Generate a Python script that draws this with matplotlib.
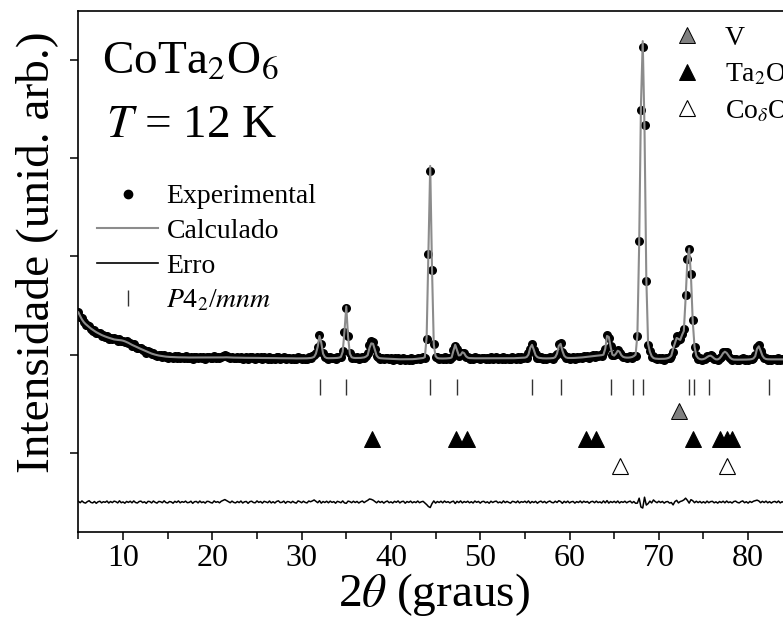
import numpy as np
import matplotlib
matplotlib.use("Agg")
import matplotlib.pyplot as plt
from matplotlib.lines import Line2D

plt.rcParams['font.family'] = ['Liberation Serif', 'DejaVu Serif']
plt.rcParams['mathtext.fontset'] = 'stix'

# 2theta grid (degrees), step 0.2
two_theta = np.round(np.arange(5.0, 85.01, 0.2), 1)

# calculated profile (arb. units), 10 points per line = 2 degrees
y_calc = np.array([
    2430, 2392, 2358, 2332, 2312, 2296, 2281, 2266, 2253, 2241,
    2229, 2219, 2209, 2200, 2192, 2185, 2178, 2172, 2166, 2160,
    2155, 2152, 2150, 2148, 2146, 2142, 2136, 2128, 2120, 2110,
    2100, 2092, 2083, 2075, 2066, 2058, 2050, 2042, 2034, 2026,
    2018, 2011, 2005, 2000, 1995, 1991, 1988, 1985, 1982, 1980,
    1978, 1977, 1976, 1975, 1974, 1974, 1973, 1973, 1972, 1972,
    1972, 1971, 1971, 1971, 1970, 1970, 1970, 1970, 1970, 1970,
    1970, 1970, 1970, 1970, 1970, 1970, 1970, 1970, 1970, 1970,
    1971, 1972, 1973, 1973, 1972, 1971, 1970, 1970, 1970, 1969,
    1969, 1969, 1968, 1968, 1968, 1968, 1968, 1967, 1967, 1967,
    1967, 1967, 1966, 1966, 1966, 1966, 1966, 1965, 1965, 1965,
    1965, 1965, 1964, 1964, 1964, 1964, 1963, 1963, 1963, 1963,
    1963, 1962, 1962, 1962, 1962, 1962, 1962, 1962, 1963, 1964,
    1966, 1970, 1978, 2010, 2080, 2190, 2120, 2010, 1976, 1966,
    1964, 1964, 1964, 1965, 1966, 1967, 1970, 1978, 2030, 2240,
    2490, 2180, 2010, 1974, 1968, 1966, 1966, 1966, 1967, 1969,
    1972, 1980, 1995, 2070, 2115, 2110, 2050, 1990, 1970, 1964,
    1962, 1961, 1960, 1960, 1959, 1958, 1957, 1956, 1955, 1954,
    1953, 1953, 1952, 1952, 1952, 1952, 1953, 1954, 1955, 1957,
    1959, 1961, 1963, 1966, 1975, 2180, 3070, 3920, 2880, 2100,
    1985, 1966, 1962, 1961, 1961, 1961, 1962, 1963, 1965, 1972,
    2040, 2100, 2045, 1992, 1996, 2025, 2015, 1984, 1970, 1965,
    1964, 1963, 1963, 1963, 1963, 1963, 1963, 1963, 1963, 1963,
    1963, 1963, 1963, 1963, 1963, 1963, 1963, 1963, 1963, 1963,
    1963, 1963, 1963, 1964, 1964, 1965, 1965, 1966, 1967, 1968,
    1970, 1976, 2000, 2070, 2100, 2050, 1995, 1975, 1968, 1965,
    1963, 1962, 1962, 1962, 1963, 1964, 1966, 1975, 2010, 2090,
    2110, 2040, 1990, 1972, 1967, 1966, 1966, 1966, 1967, 1968,
    1969, 1970, 1972, 1974, 1976, 1978, 1980, 1982, 1984, 1986,
    1988, 1990, 1992, 1995, 2000, 2060, 2190, 2180, 2080, 2000,
    1990, 2010, 2040, 2030, 1995, 1978, 1972, 1970, 1970, 1972,
    1976, 1985, 2000, 2200, 3120, 4540, 5190, 4290, 2780, 2110,
    2030, 1985, 1966, 1960, 1958, 1957, 1957, 1957, 1958, 1960,
    1964, 1972, 1990, 2060, 2115, 2170, 2160, 2150, 2200, 2240,
    2570, 2960, 3080, 2800, 2340, 2080, 1990, 1965, 1955, 1952,
    1955, 1962, 1975, 1986, 1990, 1978, 1962, 1952, 1952, 1962,
    1985, 2015, 2030, 2018, 1992, 1968, 1955, 1950, 1949, 1949,
    1949, 1949, 1949, 1950, 1950, 1951, 1952, 1955, 1962, 1985,
    2060, 2085, 2040, 1990, 1965, 1956, 1953, 1952, 1952, 1952,
    1952, 1952, 1952, 1952, 1952, 1952, 1952, 1952, 1952, 1952,
    1952])

# residual (observed - calculated)
y_res = np.array([
    8, -6, 12, -4, -10, 5, 14, -3, -8, 6,
    -12, 3, 9, -7, 4, -2, 11, -9, 6, -5,
    10, 4, -8, 13, -6, 2, -11, 7, -3, 9,
    -7, 12, -4, -9, 6, 10, -5, 3, -12, 8,
    5, -8, 11, -2, -10, 7, 4, -6, 13, -4,
    -9, 6, 2, -11, 8, -3, 12, -7, 5, -2,
    10, -6, -3, 9, -12, 4, 7, -8, 11, -5,
    3, -10, 8, 6, -4, -9, 12, -2, 5, -7,
    9, 18, 26, 15, 4, -6, 10, -3, -8, 6,
    -5, 11, -9, 3, 7, -12, 5, 9, -4, -7,
    12, -3, 6, -10, 8, 2, -6, 11, -8, 4,
    -9, 7, 13, -5, -2, 10, -11, 6, 3, -7,
    8, -4, -10, 12, 5, -6, 9, -3, -8, 11,
    4, 12, 22, 8, -6, 14, -10, 6, -4, 9,
    -7, 10, -3, 5, -11, 8, 2, -6, 12, -8,
    -12, 10, 5, -6, 9, -4, 7, -9, 3, 11,
    -5, 8, 18, 32, 28, 20, 6, -7, 10, -4,
    7, -10, 4, 11, -6, 3, -9, 8, -2, 12,
    -8, 5, 9, -11, 6, -3, 10, -7, 4, -5,
    11, -6, 3, 8, -9, -25, -45, -55, -15, 12,
    -10, 6, -4, 9, -7, 11, -3, 5, -8, 4,
    10, -14, 8, -5, 12, -8, 6, -3, 9, -7,
    4, -9, 11, -2, 7, -10, 5, 8, -6, 3,
    -11, 9, -4, 6, 10, -7, 2, -9, 12, -5,
    7, -3, -10, 8, 4, -6, 11, -8, 5, -2,
    9, -6, 12, -10, 6, -4, 8, -11, 3, 10,
    -5, 7, -9, 4, 11, -3, -7, 9, -4, 14,
    6, -12, 8, -5, 10, -8, 3, 7, -10, 5,
    -4, 11, -7, 9, -2, 6, -11, 4, 8, -6,
    10, -5, 3, -9, 12, -7, 15, -10, 6, -4,
    8, -6, 11, -9, 5, -3, 9, -7, 4, 10,
    -8, 6, -12, -10, 40, -50, -60, 50, -30, -15,
    10, -8, 22, 5, -6, 9, -4, 7, -10, 3,
    6, -10, -4, -28, 5, 18, -8, 6, 12, 22,
    40, 18, -10, 25, 14, -6, 9, -5, 7, -8,
    4, -9, 10, -6, 5, 8, -7, 3, -10, 6,
    -4, 9, -7, 11, -5, 3, -9, 6, 10, -3,
    -8, 5, 12, -6, 4, -10, 7, -3, 9, 14,
    20, 12, -6, 8, -4, 10, -7, 5, -9, 3,
    7, -5, 11, -8, 4, -3, 9, -6, 2, -10,
    5])

y_obs = y_calc + y_res
err_offset = 500
y_err = y_res + err_offset

# Bragg positions of the main phase P4_2/mnm
bragg_pos = [32.05, 34.97, 44.37, 47.43, 55.83, 59.04, 64.64, 67.07, 68.19,
             73.40, 73.96, 75.64, 82.37]
bragg_y = 1672

# impurity peaks
v_pos = [72.3]
v_y = 1427
ta2o5_pos = [37.9, 47.3, 48.5, 61.9, 63.0, 73.85, 76.8, 77.65, 78.25]
ta2o5_y = 1145
coo_pos = [65.65, 77.6]
coo_y = 870

fig = plt.figure(figsize=(7.83, 6.19), dpi=100)
ax = fig.add_axes([78.4 / 783, 87 / 619, 759 / 783, 521 / 619])

ax.plot(two_theta, y_obs, 'o', color='k', ms=6.5, mew=0, zorder=2)
ax.plot(two_theta, y_calc, color='#8c8c8c', lw=1.5, zorder=3)
ax.plot(two_theta, y_err, color='k', lw=1.1, zorder=3)
ax.plot(bragg_pos, [bragg_y] * len(bragg_pos), '|', color='#333333', ms=12, mew=1.0)
ax.plot(v_pos, [v_y] * len(v_pos), '^', mfc='#808080', mec='k', mew=0.7, ms=12)
ax.plot(ta2o5_pos, [ta2o5_y] * len(ta2o5_pos), '^', mfc='k', mec='k', mew=0.7, ms=12)
ax.plot(coo_pos, [coo_y] * len(coo_pos), '^', mfc='w', mec='k', mew=0.8, ms=12)

ax.set_xlim(5, 90)
ax.set_ylim(196, 5496)
ax.set_xticks([10, 20, 30, 40, 50, 60, 70, 80])
ax.set_xticks([5, 15, 25, 35, 45, 55, 65, 75, 85], minor=True)
ax.set_yticks([1000, 2000, 3000, 4000, 5000])
ax.set_yticklabels([])
ax.tick_params(axis='both', which='major', direction='out', length=6, width=1.1,
               labelsize=23, pad=3)
ax.tick_params(axis='x', which='minor', direction='out', length=5, width=1.1)
for s in ax.spines.values():
    s.set_linewidth(1.2)

ax.set_xlabel(r'2$\theta$ (graus)', fontsize=34)
ax.xaxis.set_label_coords(0.4685, -0.075)
ax.set_ylabel('Intensidade (unid. arb.)', fontsize=34)
ax.yaxis.set_label_coords(-0.027, 0.537)

ax.text(0.031, 0.881, r'CoTa$_2$O$_6$', fontsize=34, transform=ax.transAxes,
        va='baseline', ha='left')
ax.text(0.036, 0.758, r'$T$ = 12 K', fontsize=34, transform=ax.transAxes,
        va='baseline', ha='left')

h1 = [Line2D([], [], ls='none', marker='o', color='k', ms=6),
      Line2D([], [], color='#8c8c8c', lw=1.5),
      Line2D([], [], color='k', lw=1.2),
      Line2D([], [], ls='none', marker='|', color='#333333', ms=12, mew=1.0)]
l1 = ['Experimental', 'Calculado', 'Erro', r'$P$4$_2$/$mnm$']
leg1 = ax.legend(h1, l1, loc='upper left', bbox_to_anchor=(0.0245, 0.668),
                 frameon=False, fontsize=20, handlelength=2.2, handletextpad=0.3,
                 labelspacing=0.33, borderpad=0, borderaxespad=0, numpoints=1)
ax.add_artist(leg1)

h2 = [Line2D([], [], ls='none', marker='^', mfc='#808080', mec='k', mew=0.7, ms=12),
      Line2D([], [], ls='none', marker='^', mfc='k', mec='k', mew=0.7, ms=12),
      Line2D([], [], ls='none', marker='^', mfc='w', mec='k', mew=0.8, ms=12)]
l2 = ['V', r'Ta$_2$O$_5$', r'Co$_\delta$O']
ax.legend(h2, l2, loc='upper left', bbox_to_anchor=(0.765, 0.973),
          frameon=False, fontsize=20, handlelength=2.0, handletextpad=0.38,
          labelspacing=0.4, borderpad=0, borderaxespad=0, numpoints=1)

fig.savefig('out.png', dpi=100)
